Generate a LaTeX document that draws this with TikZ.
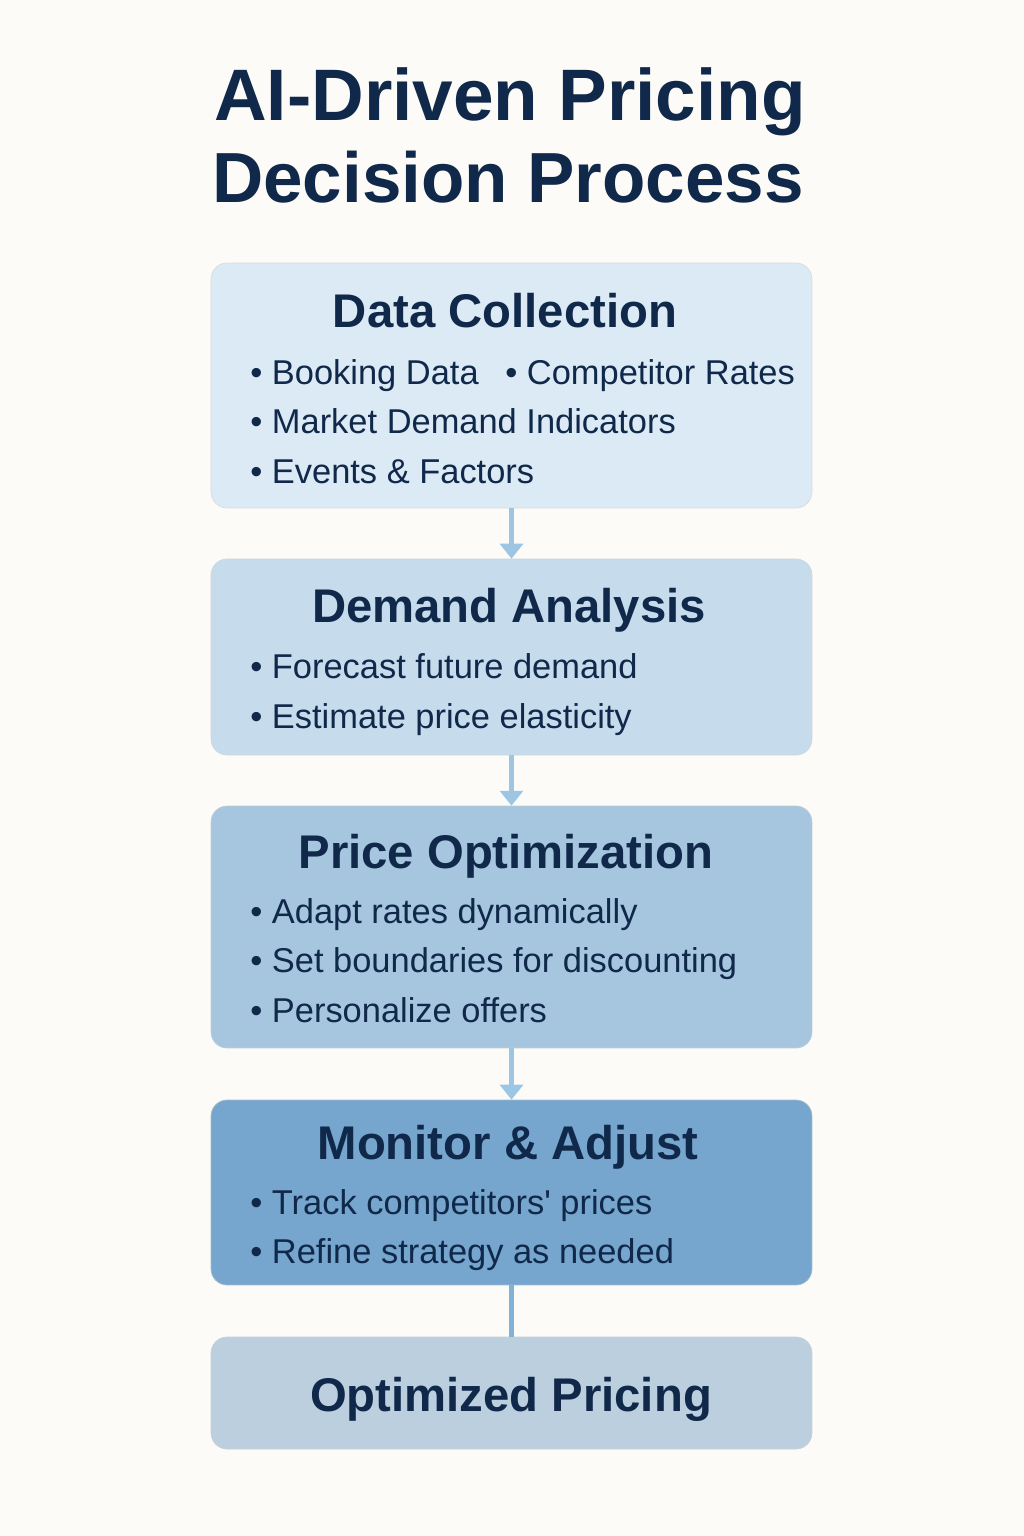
\documentclass[tikz,border=0pt]{standalone}
\usepackage{fontspec}
\setmainfont{Liberation Sans}
\usetikzlibrary{arrows.meta}

\definecolor{pagebg}{HTML}{FCFBF8}
\definecolor{ink}{HTML}{10284A}
\definecolor{stageA}{HTML}{DCEAF5}
\definecolor{stageB}{HTML}{C6DCEC}
\definecolor{stageC}{HTML}{A6C6E0}
\definecolor{stageD}{HTML}{76A6CD}
\definecolor{stageE}{HTML}{BCCFDF}
\definecolor{flowblue}{HTML}{9CC6E4}
\definecolor{linkblue}{HTML}{80B2D9}

\tikzset{
  stagebox/.style={draw=#1!85!black!60, line width=0.4pt, fill=#1, rounded corners=0.32cm,
    minimum width=12.02cm, inner sep=0pt},
  heading/.style={ink, font=\bfseries\fontsize{26.9}{30}\selectfont, anchor=base, inner sep=0pt},
  item/.style={ink, font=\fontsize{19.6}{22}\selectfont, anchor=base west, inner sep=0pt},
  flow/.style={flowblue, line width=3.4pt, -{Triangle[width=13pt,length=8.5pt]}},
}

\begin{document}
\begin{tikzpicture}[x=0.02cm, y=-0.02cm]
\fill[pagebg] (0,0) rectangle (1024,1536);

\node[ink, font=\bfseries\fontsize{41.5}{46}\selectfont, anchor=base, inner sep=0pt] (title1) at (510,120) {AI-Driven Pricing};
\node[ink, font=\bfseries\fontsize{40.4}{46}\selectfont, anchor=base, inner sep=0pt] (title2) at (508,202) {Decision Process};

\node[stagebox=stageA, minimum height=4.9cm] (dcbox) at (511.5,385.5) {};
\node[stagebox=stageB, minimum height=3.92cm] (dabox) at (511.5,657) {};
\node[stagebox=stageC, minimum height=4.84cm] (pobox) at (511.5,927) {};
\node[stagebox=stageD, minimum height=3.7cm] (mabox) at (511.5,1192.5) {};
\node[stagebox=stageE, minimum height=2.24cm] (opbox) at (511.5,1393) {};

\node[heading] (dchead) at (505,327) {Data Collection};
\node[item] (dc1) at (250,384) {• Booking Data};
\node[item] (dc2) at (505,384) {• Competitor Rates};
\node[item] (dc3) at (250,433) {• Market Demand Indicators};
\node[item] (dc4) at (250,483) {• Events \& Factors};

\node[heading] (dahead) at (509,622) {Demand Analysis};
\node[item] (da1) at (250,678) {• Forecast future demand};
\node[item] (da2) at (250,728) {• Estimate price elasticity};

\node[heading] (pohead) at (506,868) {Price Optimization};
\node[item] (po1) at (250,923) {• Adapt rates dynamically};
\node[item] (po2) at (250,972) {• Set boundaries for discounting};
\node[item] (po3) at (250,1022) {• Personalize offers};

\node[heading] (mahead) at (508,1159) {Monitor \& Adjust};
\node[item] (ma1) at (250,1214) {• Track competitors\textquotesingle{} prices};
\node[item] (ma2) at (250,1263) {• Refine strategy as needed};

\node[heading] (ophead) at (511,1411) {Optimized Pricing};

\draw[flow] (dcbox.south) -- (dabox.north);
\draw[flow] (dabox.south) -- (pobox.north);
\draw[flow] (pobox.south) -- (mabox.north);
\draw[linkblue, line width=2.8pt] (mabox.south) -- (opbox.north);

\end{tikzpicture}
\end{document}
